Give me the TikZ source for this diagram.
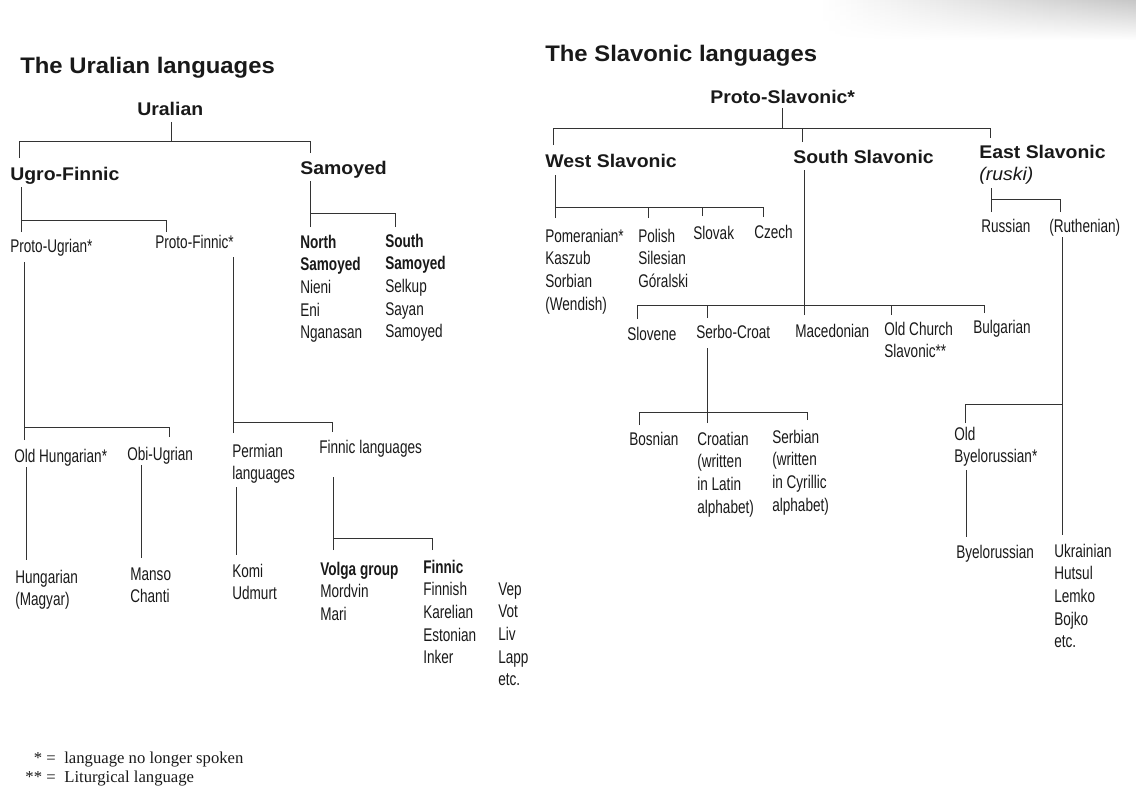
\documentclass[tikz,border=0pt]{standalone}
\usepackage{fontspec}
\setmainfont{Liberation Serif}
\newfontfamily\condfamily[FakeStretch=0.74]{Liberation Sans}
\newfontfamily\widefamily[FakeStretch=1.06]{Liberation Sans}
\usetikzlibrary{calc,fadings}

\newcommand\langfont{\condfamily\fontsize{11}{13.6}\selectfont}
\newcommand\groupfont{\widefamily\bfseries\fontsize{11}{13.8}\selectfont}
\newcommand\titlefont{\widefamily\bfseries\fontsize{13.5}{16}\selectfont}
\newcommand\notefont{\fontsize{10}{12}\selectfont}
% lines hang from the first baseline
\newcommand\stack[1]{\begin{tabular}[t]{@{}l@{}}#1\end{tabular}}

\begin{document}
\begin{tikzpicture}[x=0.6pt,y=-0.6pt,
  lang/.style={inner sep=0pt,anchor=base west,font=\langfont,text=black!90},
  group/.style={lang,font=\groupfont},
  heading/.style={lang,font=\titlefont},
  note/.style={inner sep=0pt,anchor=base west,font=\notefont,text=black!90},
  tie/.style={black!80,line width=0.6pt}]
\useasboundingbox (0,0) rectangle (1136,787);
% scanner shade in the corner
\shade[left color=white,right color=black!22,path fading=south] (820,0) rectangle (1136,40);

% Uralian tree
\node[heading] (uraltitle) at (20,74) {The Uralian languages};
\node[group] (ural) at (137,115) {Uralian};
\node[group] (ugro) at (10,180) {Ugro-Finnic};
\node[group] (samo) at (300,174) {Samoyed};
\node[lang] (pugr) at (10,252) {Proto-Ugrian*};
\node[lang] (pfin) at (155,248) {Proto-Finnic*};
\node[lang] (nsam) at (300,248) {\stack{\bfseries North\\\bfseries Samoyed\\Nieni\\Eni\\Nganasan}};
\node[lang] (ssam) at (385,247) {\stack{\bfseries South\\\bfseries Samoyed\\Selkup\\Sayan\\Samoyed}};
\node[lang] (ohun) at (14,462) {Old Hungarian*};
\node[lang] (obiu) at (127,460) {Obi-Ugrian};
\node[lang] (perm) at (232,457) {\stack{Permian\\languages}};
\node[lang] (flan) at (319,453) {Finnic languages};
\node[lang] (hung) at (15,583) {\stack{Hungarian\\(Magyar)}};
\node[lang] (mans) at (130,580) {\stack{Manso\\Chanti}};
\node[lang] (komi) at (232,577) {\stack{Komi\\Udmurt}};
\node[lang] (volg) at (320,575) {\stack{\bfseries Volga group\\Mordvin\\Mari}};
\node[lang] (finn) at (423,573) {\stack{\bfseries Finnic\\Finnish\\Karelian\\Estonian\\Inker}};
\node[lang] (vep) at (498,595) {\stack{Vep\\Vot\\Liv\\Lapp\\etc.}};

\coordinate (uralbus) at ($(ural.base west)+(34,26)$);
\draw[tie] ($(ural.base west)+(34,7)$) -- (uralbus)
  ($(ugro.base west)+(9,-22)$) |- (uralbus)
  ($(samo.base west)+(10,-21)$) |- (uralbus);
\coordinate (ugrobus) at ($(ugro.base west)+(11,40)$);
\draw[tie] ($(ugro.base west)+(11,7)$) -- (ugrobus)
  ($(pugr.base west)+(11,-20)$) |- (ugrobus)
  ($(pfin.base west)+(11,-16)$) |- (ugrobus);
\coordinate (samobus) at ($(samo.base west)+(10,39)$);
\draw[tie] ($(samo.base west)+(10,7)$) -- (samobus)
  ($(nsam.base west)+(10,-21)$) |- (samobus)
  ($(ssam.base west)+(10,-20)$) |- (samobus);
\coordinate (pugrbus) at ($(pugr.base west)+(14,175)$);
\draw[tie] ($(pugr.base west)+(14,10)$) -- (pugrbus)
  ($(ohun.base west)+(10,-22)$) |- (pugrbus)
  ($(obiu.base west)+(42,-23)$) |- (pugrbus);
\coordinate (pfinbus) at ($(pfin.base west)+(78,174)$);
\draw[tie] ($(pfin.base west)+(78,9)$) -- (pfinbus)
  ($(perm.base west)+(1,-24)$) |- (pfinbus)
  ($(flan.base west)+(13,-21)$) |- (pfinbus);
\coordinate (flanbus) at ($(flan.base west)+(14,85)$);
\draw[tie] ($(flan.base west)+(14,24)$) -- (flanbus)
  ($(volg.base west)+(13,-25)$) |- (flanbus)
  ($(finn.base west)+(9,-23)$) |- (flanbus);
\draw[tie] ($(ohun.base west)+(12,5)$) -- ($(hung.base west)+(11,-23)$);
\draw[tie] ($(obiu.base west)+(14,5)$) -- ($(mans.base west)+(11,-22)$);
\draw[tie] ($(perm.base west)+(4,30)$) -- ($(komi.base west)+(4,-22)$);

% Slavonic tree
\node[heading] (slavtitle) at (545,62) {The Slavonic languages};
\node[group] (psla) at (710,103) {Proto-Slavonic*};
\node[group] (wsla) at (545,167) {West Slavonic};
\node[group] (ssla) at (793,163) {South Slavonic};
\node[group] (esla) at (979,158) {\stack{East Slavonic\\\mdseries\itshape (ruski)}};
\node[lang] (pome) at (545,242) {\stack{Pomeranian*\\Kaszub\\Sorbian\\(Wendish)}};
\node[lang] (poli) at (638,242) {\stack{Polish\\Silesian\\Góralski}};
\node[lang] (slok) at (693,239) {Slovak};
\node[lang] (czec) at (754,238) {Czech};
\node[lang] (slvn) at (627,340) {Slovene};
\node[lang] (srbc) at (696,338) {Serbo-Croat};
\node[lang] (mace) at (795,337) {Macedonian};
\node[lang] (ocsl) at (884,335) {\stack{Old Church\\Slavonic**}};
\node[lang] (bulg) at (973,333) {Bulgarian};
\node[lang] (bosn) at (629,445) {Bosnian};
\node[lang] (croa) at (697,445) {\stack{Croatian\\(written\\in Latin\\alphabet)}};
\node[lang] (serb) at (772,443) {\stack{Serbian\\(written\\in Cyrillic\\alphabet)}};
\node[lang] (russ) at (981,232) {Russian};
\node[lang] (ruth) at (1049,232) {(Ruthenian)};
\node[lang] (obye) at (954,440) {\stack{Old\\Byelorussian*}};
\node[lang] (byel) at (956,558) {Byelorussian};
\node[lang] (ukra) at (1054,557) {\stack{Ukrainian\\Hutsul\\Lemko\\Bojko\\etc.}};

\coordinate (pslabus) at ($(psla.base west)+(72,25)$);
\draw[tie] ($(psla.base west)+(72,5)$) -- (pslabus)
  ($(wsla.base west)+(8,-22)$) |- (pslabus)
  ($(ssla.base west)+(9,-21)$) |- (pslabus)
  ($(esla.base west)+(11,-20)$) |- (pslabus);
\coordinate (wslabus) at ($(wsla.base west)+(10,40)$);
\draw[tie] ($(wsla.base west)+(10,8)$) -- (wslabus)
  ($(pome.base west)+(10,-24)$) |- (wslabus)
  ($(poli.base west)+(10,-24)$) |- (wslabus)
  ($(slok.base west)+(9,-23)$) |- (wslabus)
  ($(czec.base west)+(9,-21)$) |- (wslabus);
\coordinate (sslabus) at ($(ssla.base west)+(11,142)$);
\draw[tie] ($(ssla.base west)+(11,7)$) -- (sslabus)
  ($(slvn.base west)+(10,-21)$) |- (sslabus)
  ($(srbc.base west)+(11,-20)$) |- (sslabus)
  ($(mace.base west)+(9,-22)$) |- (sslabus)
  ($(ocsl.base west)+(7,-20)$) |- (sslabus)
  ($(bulg.base west)+(11,-20)$) |- (sslabus);
\coordinate (eslabus) at ($(esla.base west)+(12,41)$);
\draw[tie] ($(esla.base west)+(12,30)$) -- (eslabus)
  ($(russ.base west)+(10,-20)$) |- (eslabus)
  ($(ruth.base west)+(11,-20)$) |- (eslabus);
\coordinate (srbcbus) at ($(srbc.base west)+(11,74)$);
\draw[tie] ($(srbc.base west)+(11,10)$) -- (srbcbus)
  ($(bosn.base west)+(10,-20)$) |- (srbcbus)
  ($(croa.base west)+(10,-22)$) |- (srbcbus)
  ($(serb.base west)+(35,-23)$) |- (srbcbus);
\coordinate (ruthbus) at ($(ruth.base west)+(13,172)$);
\draw[tie] ($(ruth.base west)+(13,5)$) -- (ruthbus) -- ($(ukra.base west)+(8,-22)$)
  ($(obye.base west)+(11,-17)$) |- (ruthbus);
\draw[tie] ($(obye.base west)+(12,30)$) -- ($(byel.base west)+(10,-21)$);

% key
\node[note,anchor=base east] (key1) at (56,763) {* =};
\node[note] (note1) at (64,763) {language no longer spoken};
\node[note,anchor=base east] (key2) at (56,782) {** =};
\node[note] (note2) at (64,782) {Liturgical language};
\end{tikzpicture}
\end{document}
